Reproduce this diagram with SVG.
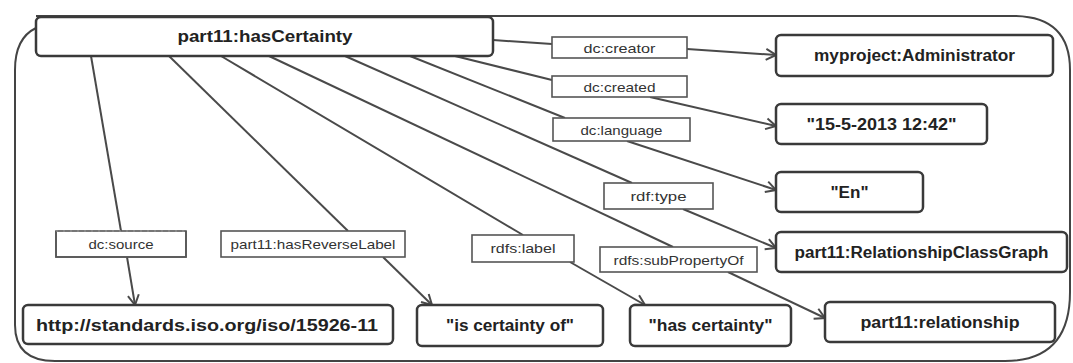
<svg xmlns="http://www.w3.org/2000/svg" width="1073" height="363" viewBox="0 0 1073 363">
<defs>
<style>
.node rect{fill:#fff;stroke:#3a3a3a;stroke-width:2.5}
.node text{font-family:"Liberation Sans",Arial,sans-serif;font-weight:bold;font-size:16px;fill:#222;text-anchor:middle}
.lbl rect{fill:#fff;stroke:#555;stroke-width:1.6}
.lbl text{font-family:"Liberation Sans",Arial,sans-serif;font-size:13.5px;fill:#333;text-anchor:middle}
.edge{stroke:#4a4a4a;stroke-width:2;fill:none}
.arr{marker-end:url(#ah)}
</style>
<marker id="ah" markerUnits="userSpaceOnUse" markerWidth="14" markerHeight="14" viewBox="0 0 14 14" refX="12" refY="7" orient="auto">
<path d="M2,1.5 L12,7 L2,12.5" fill="none" stroke="#4a4a4a" stroke-width="2"/>
</marker>
</defs>
<rect width="1073" height="363" fill="#fff"/>
<path id="frame" d="M36,28 Q15,38 15,70 L15,325 Q15,361 55,361 L1005,361 Q1070,361 1070,292 L1070,70 Q1070,16 1013,16 L36,16" fill="none" stroke="#444" stroke-width="2"/>
<g id="connectors">
<line class="edge" x1="493" y1="40" x2="552" y2="44"/>
<line class="edge arr" x1="687" y1="49" x2="776" y2="55"/>
<line class="edge" x1="455" y1="56" x2="552" y2="80"/>
<line class="edge arr" x1="650" y1="97" x2="776" y2="126"/>
<line class="edge" x1="410" y1="56" x2="565" y2="118"/>
<line class="edge arr" x1="627" y1="141" x2="776" y2="190"/>
<line class="edge" x1="345" y1="56" x2="632" y2="183"/>
<line class="edge arr" x1="683" y1="209" x2="776" y2="248"/>
<line class="edge" x1="269" y1="56" x2="673" y2="247"/>
<line class="edge arr" x1="728" y1="272" x2="825" y2="318"/>
<line class="edge" x1="221" y1="56" x2="523" y2="235"/>
<line class="edge arr" x1="570" y1="262" x2="645" y2="305"/>
<line class="edge" x1="169" y1="56" x2="348" y2="231"/>
<line class="edge arr" x1="383" y1="257" x2="432" y2="305"/>
<line class="edge" x1="91" y1="56" x2="121" y2="231"/>
<line class="edge arr" x1="127" y1="257" x2="135" y2="305"/>
<g class="lbl" id="l-creator"><rect x="552" y="37" width="135" height="21"/><text x="619.5" y="52.5" textLength="72" lengthAdjust="spacingAndGlyphs">dc:creator</text></g>
<g class="lbl" id="l-created"><rect x="552" y="76" width="135" height="21"/><text x="619.5" y="91.5" textLength="72" lengthAdjust="spacingAndGlyphs">dc:created</text></g>
<g class="lbl" id="l-language"><rect x="553" y="118" width="137" height="23"/><text x="621.5" y="134.5" textLength="82" lengthAdjust="spacingAndGlyphs">dc:language</text></g>
<g class="lbl" id="l-type"><rect x="604" y="183" width="109" height="26"/><text x="658.5" y="201" textLength="56" lengthAdjust="spacingAndGlyphs">rdf:type</text></g>
<g class="lbl" id="l-subprop"><rect x="600" y="247" width="157" height="25"/><text x="678.5" y="264.5" textLength="130" lengthAdjust="spacingAndGlyphs">rdfs:subPropertyOf</text></g>
<g class="lbl" id="l-rdfslabel"><rect x="472" y="235" width="102" height="27"/><text x="523" y="253" textLength="65" lengthAdjust="spacingAndGlyphs">rdfs:label</text></g>
<g class="lbl" id="l-source"><rect x="56" y="231" width="130" height="26" stroke="none"/><path d="M56,231 L56,257 L186,257 L186,231" fill="none" stroke="#555" stroke-width="1.6"/><path d="M56,231 L186,231" stroke="#999" stroke-width="1" stroke-dasharray="2,5"/><text x="121" y="249" textLength="65" lengthAdjust="spacingAndGlyphs">dc:source</text></g>
<g class="lbl" id="l-revlabel"><rect x="221" y="231" width="184" height="26"/><text x="313" y="249" textLength="165" lengthAdjust="spacingAndGlyphs">part11:hasReverseLabel</text></g>
</g>
<g class="node" id="n-hascertainty"><rect x="36" y="17" width="457" height="39" rx="5"/><text x="265" y="42" textLength="175" lengthAdjust="spacingAndGlyphs">part11:hasCertainty</text></g>
<g class="node" id="n-admin"><rect x="776" y="35" width="277" height="41" rx="5"/><text x="914.5" y="61" textLength="201" lengthAdjust="spacingAndGlyphs">myproject:Administrator</text></g>
<g class="node" id="n-date"><rect x="776" y="104" width="211" height="40" rx="5"/><text x="881.5" y="130" textLength="150" lengthAdjust="spacingAndGlyphs">"15-5-2013 12:42"</text></g>
<g class="node" id="n-en"><rect x="776" y="172" width="147" height="40" rx="5"/><text x="849.5" y="198" textLength="38" lengthAdjust="spacingAndGlyphs">"En"</text></g>
<g class="node" id="n-rcg"><rect x="776" y="232" width="291" height="40" rx="5"/><text x="921.5" y="258" textLength="254" lengthAdjust="spacingAndGlyphs">part11:RelationshipClassGraph</text></g>
<g class="node" id="n-rel"><rect x="825" y="302" width="230" height="40" rx="5"/><text x="940" y="328" textLength="159" lengthAdjust="spacingAndGlyphs">part11:relationship</text></g>
<g class="node" id="n-has"><rect x="630" y="305" width="161" height="41" rx="5"/><text x="710.5" y="331" textLength="124" lengthAdjust="spacingAndGlyphs">"has certainty"</text></g>
<g class="node" id="n-is"><rect x="417" y="305" width="186" height="41" rx="5"/><text x="510" y="331" textLength="128" lengthAdjust="spacingAndGlyphs">"is certainty of"</text></g>
<g class="node" id="n-http"><rect x="23" y="305" width="370" height="39" rx="5"/><text x="207" y="331" textLength="342" lengthAdjust="spacingAndGlyphs">http://standards.iso.org/iso/15926-11</text></g>
</svg>
